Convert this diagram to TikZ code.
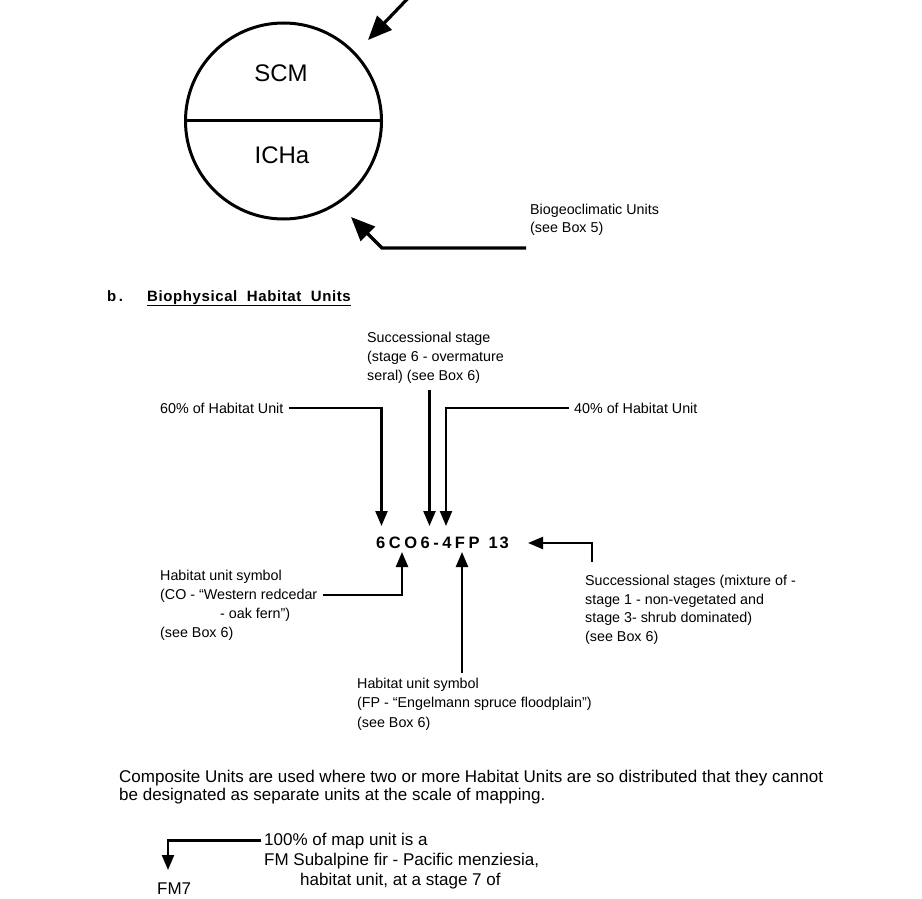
\documentclass[tikz,border=0pt]{standalone}
\usepackage{fontspec}
\setmainfont{Liberation Sans}
\usetikzlibrary{arrows.meta,calc}
\begin{document}
\begin{tikzpicture}[x=1pt,y=-1pt,
  lbl/.style={anchor=base west,inner sep=0pt,align=left,font=\fontsize{14.3}{18.7}\selectfont},
  blbl/.style={anchor=base west,inner sep=0pt,align=left,font=\fontsize{17}{18}\selectfont},
  conn/.style={line width=2.3pt,-{Triangle[length=15pt,width=12pt]}},
  bigconn/.style={line width=3.2pt,-{Triangle[length=24pt,width=20pt]}},
  bigtxt/.style={inner sep=0pt,font=\fontsize{24}{24}\selectfont},
]
\fill[white] (0,0) rectangle (922,899);
\useasboundingbox (0,0) rectangle (922,899);

% ---- a. biogeoclimatic circle
\node[circle,draw,line width=3pt,minimum size=196pt,inner sep=0pt] (bgc) at (283.5,121) {};
\draw[line width=3pt] (bgc.west) -- (bgc.east);
\node[bigtxt] (scm) at (281,73) {SCM};
\node[bigtxt] (icha) at (282,155) {ICHa};

\coordinate (topsrc) at (414,-8);
\coordinate (toptip) at (368,40);
\draw[bigconn] (topsrc) -- (toptip);

\node[lbl,font=\fontsize{14.3}{18}\selectfont] (bio) at (530,232) {Biogeoclimatic Units\\(see Box 5)};
\coordinate (biotail) at (526,248);
\coordinate (bioelbow) at (382,248);
\coordinate (biotip) at (351,217);
\draw[bigconn] (biotail) -- (bioelbow) -- (biotip);

% ---- b. heading
\node[lbl,font=\bfseries\fontsize{15}{16}\selectfont\addfontfeature{LetterSpace=4}] (hb) at (107,301) {b\,.};
\node[lbl,font=\bfseries\fontsize{15}{16}\selectfont\addfontfeature{LetterSpace=4}] (hbt) at (147,301) {\underline{Biophysical\ \ Habitat\ \ Units}};

% ---- symbol and labels
\node[lbl,font=\fontsize{14.3}{19}\selectfont] (succ) at (367,380) {Successional stage\\(stage 6 - overmature\\seral) (see Box 6)};
\node[lbl] (l60) at (160,413) {60\% of Habitat Unit};
\node[lbl] (l40) at (574,413) {40\% of Habitat Unit};
\node[anchor=base west,inner sep=0pt,font=\bfseries\fontsize{16.5}{18}\selectfont] (sym) at (376,548)
  {6\hspace{3.5pt}C\hspace{3.5pt}O\hspace{3.5pt}6\hspace{3.5pt}-\hspace{3.5pt}4\hspace{3.5pt}F\hspace{3.5pt}P\hspace{9pt}1\hspace{2pt}3};

\coordinate (a60) at (381.5,526);
\coordinate (a6) at (429.5,526);
\coordinate (a40) at (446,526);
\coordinate (s6) at (429.5,390);
\draw[conn] ([xshift=5pt]l60.east) -| (a60);
\draw[conn] ([xshift=-5pt]l40.west) -| (a40);
\draw[conn] (s6) -- (a6);

\node[lbl,font=\fontsize{14.3}{18.5}\selectfont] (ss) at (585,641) {Successional stages (mixture of -\\stage 1 - non-vegetated and\\stage 3- shrub dominated)\\(see Box 6)};
\coordinate (sstop) at (592,562);
\coordinate (a13) at (528,543);
\draw[conn] (sstop) |- (a13);

\node[lbl] (hu1a) at (160,580) {Habitat unit symbol};
\node[lbl] (hu1b) at (160,599) {(CO - “Western redcedar};
\node[lbl] (hu1c) at (220,618) {- oak fern”)};
\node[lbl] (hu1d) at (160,637) {(see Box 6)};
\coordinate (aco) at (402,552);
\draw[conn] ([xshift=6pt]hu1b.east) -| (aco);

\node[lbl,font=\fontsize{14.3}{19.5}\selectfont] (hu2) at (357,727) {Habitat unit symbol\\(FP - “Engelmann spruce floodplain”)\\(see Box 6)};
\coordinate (fptail) at (462,673);
\coordinate (afp) at (462,552);
\draw[conn] (fptail) -- (afp);

% ---- composite units
\node[blbl] (comp) at (119,800) {Composite Units are used where two or more Habitat Units are so distributed that they cannot\\be designated as separate units at the scale of mapping.};

\node[blbl] (m100a) at (264,845) {100\% of map unit is a};
\node[blbl] (m100b) at (264,865) {FM Subalpine fir - Pacific menziesia,};
\node[blbl] (m100c) at (300,885) {habitat unit, at a stage 7 of};
\node[blbl] (fm7) at (157,894) {FM7};
\coordinate (fmtip) at (168,870);
\draw[conn] ([xshift=-3pt]m100a.west) -| (fmtip);
\end{tikzpicture}
\end{document}
